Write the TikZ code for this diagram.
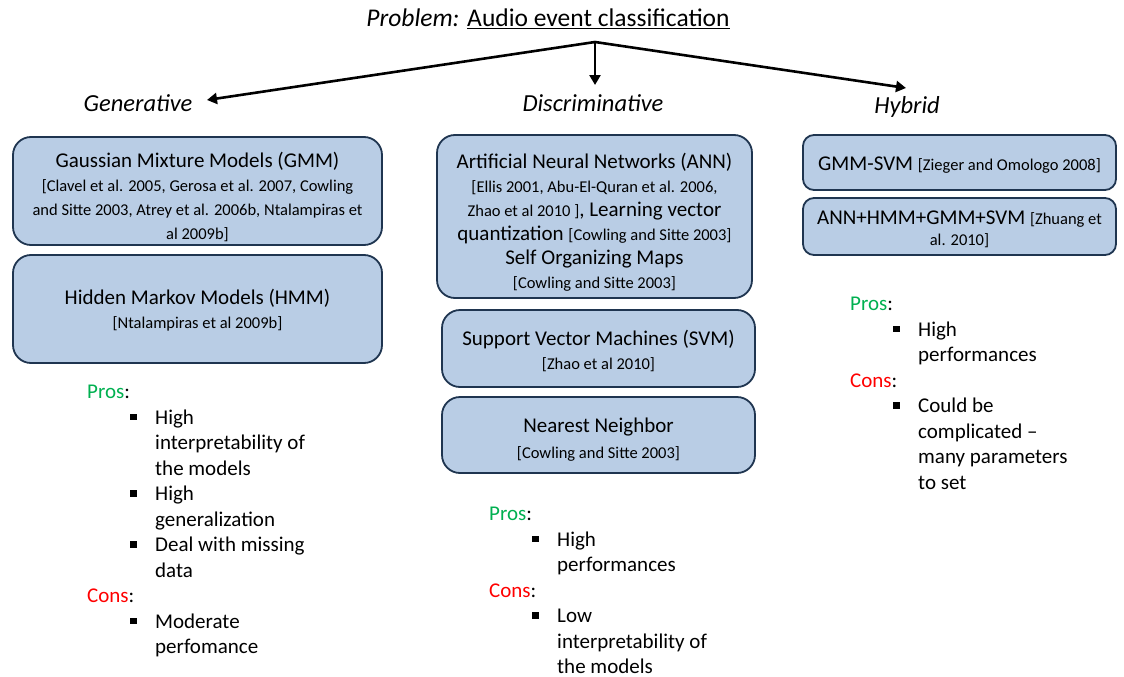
\documentclass[tikz,border=0pt]{standalone}
\usepackage{fontspec}
\setmainfont{Carlito}
\usetikzlibrary{arrows.meta}
\definecolor{boxfill}{HTML}{B9CDE5}
\definecolor{boxborder}{HTML}{1F3550}
\definecolor{prosgreen}{HTML}{00B050}
\definecolor{consred}{HTML}{FF0000}
\newcommand{\pcbul}[1]{\hspace*{43pt}\makebox[25pt][l]{\raisebox{4pt}{\rule{6.5pt}{6.5pt}}}#1}
\newcommand{\pccont}[1]{\hspace*{68pt}#1}
\newcommand{\bigf}{\fontsize{21}{24}\selectfont}
\newcommand{\citef}{\fontsize{16.5}{23.5}\selectfont}
\tikzset{
  box/.style={draw=boxborder, line width=1.8pt, fill=boxfill, rounded corners=18pt, align=center, inner sep=0pt, font=\bigf},
  sbox/.style={box, rounded corners=11pt},
  cat/.style={font=\fontsize{24.5}{28}\selectfont\itshape, inner sep=0pt},
  arr/.style={line width=2.6pt, -{Triangle[length=10pt,width=11pt]}},
  pc/.style={align=left, anchor=north west, inner sep=0pt, font=\fontsize{21}{25.5}\selectfont}
}
\begin{document}
\begin{tikzpicture}[x=1pt,y=-1pt]
\useasboundingbox (0,0) rectangle (1124,677);
% title
\node[inner sep=0pt, font=\fontsize{25.5}{29}\selectfont] (title) at (548,19) {\textit{Problem:} \underline{Audio event classification}};
\coordinate (root) at (595,42);
\node[cat] (gen) at (138,103) {Generative};
\node[cat] (disc) at (593,103) {Discriminative};
\node[cat] (hyb) at (907,107) {Hybrid};
\draw[arr] (root) -- (207,100);
\draw[arr] (root) -- (595,85);
\draw[arr] (root) -- (906,88);
% generative boxes
\node[box, minimum width=369pt, minimum height=108pt] (gmm) at (197.5,191) {\rule{0pt}{27pt}Gaussian Mixture Models (GMM)\\
{\citef [Clavel et al. 2005, Gerosa et al. 2007, Cowling}\\
{\citef and Sitte 2003, Atrey et al. 2006b, Ntalampiras et}\\
{\citef al 2009b]}};
\node[box, minimum width=369pt, minimum height=108pt] (hmm) at (197.5,309) {\rule{0pt}{18pt}Hidden Markov Models (HMM)\\
{\citef [Ntalampiras et al 2009b]}};
% discriminative boxes
\node[box, minimum width=315pt, minimum height=163pt] (ann) at (594.5,216.5) {\rule{0pt}{27pt}Artificial Neural Networks (ANN)\\
{\citef [Ellis 2001, Abu-El-Quran et al. 2006,}\\
{\citef Zhao et al 2010 ]}, Learning vector\\
quantization {\citef [Cowling and Sitte 2003]}\\
Self Organizing Maps\\
{\citef [Cowling and Sitte 2003]}};
\node[box, minimum width=313pt, minimum height=77pt] (svm) at (598.5,348.5) {\rule{0pt}{20pt}Support Vector Machines (SVM)\\
{\citef [Zhao et al 2010]}};
\node[box, minimum width=313pt, minimum height=76pt] (nn) at (598.5,435) {\rule{0pt}{24pt}Nearest Neighbor\\[2pt]
{\citef [Cowling and Sitte 2003]}};
% hybrid boxes
\node[sbox, minimum width=313pt, minimum height=55pt] (gsvm) at (959.5,162.5) {\rule{0pt}{18pt}GMM-SVM {\citef [Zieger and Omologo 2008]}};
\node[sbox, minimum width=313pt, minimum height=57pt] (mix) at (959.5,226.5) {\rule{0pt}{20pt}ANN+HMM+GMM+SVM {\citef [Zhuang et}\\[-3pt]
{\citef al. 2010]}};
% pros / cons
\node[pc] (pcgen) at (87,385) {\textcolor{prosgreen}{Pros}:\\
\pcbul{High}\\
\pccont{interpretability of}\\
\pccont{the models}\\
\pcbul{High}\\
\pccont{generalization}\\
\pcbul{Deal with missing}\\
\pccont{data}\\
\textcolor{consred}{Cons}:\\
\pcbul{Moderate}\\
\pccont{perfomance}};
\node[pc] (pcdisc) at (489,507) {\textcolor{prosgreen}{Pros}:\\
\pcbul{High}\\
\pccont{performances}\\
\textcolor{consred}{Cons}:\\
\pcbul{Low}\\
\pccont{interpretability of}\\
\pccont{the models}};
\node[pc] (pchyb) at (850,297) {\textcolor{prosgreen}{Pros}:\\
\pcbul{High}\\
\pccont{performances}\\
\textcolor{consred}{Cons}:\\
\pcbul{Could be}\\
\pccont{complicated --}\\
\pccont{many parameters}\\
\pccont{to set}};
\end{tikzpicture}
\end{document}
